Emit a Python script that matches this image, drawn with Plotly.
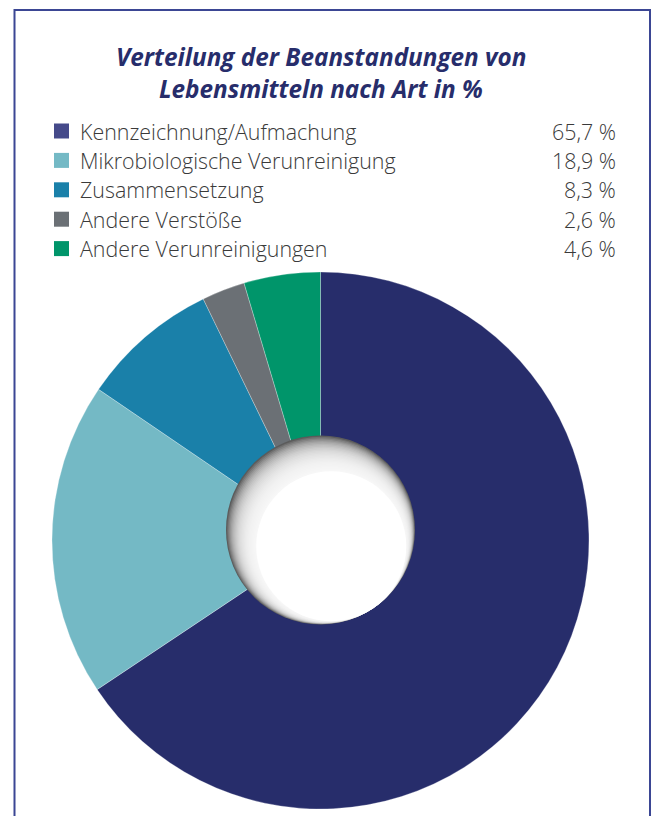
import plotly.graph_objects as go

W, H = 653, 816

categories = ["Kennzeichnung/Aufmachung", "Mikrobiologische Verunreinigung",
              "Zusammensetzung", "Andere Verstöße", "Andere Verunreinigungen"]
values = [65.7, 18.9, 8.3, 2.6, 4.6]
value_labels = ["65,7 %", "18,9 %", "8,3 %", "2,6 %", "4,6 %"]
slice_colors = ["#272d6b", "#74b9c5", "#1a80a9", "#6b7075", "#00956a"]
legend_colors = ["#454a8a", "#74b9c5", "#1a80a9", "#6b7075", "#00956a"]
title_lines = ["Verteilung der Beanstandungen von", "Lebensmitteln nach Art in %"]


def px(x):
    return x / W


def py(y):
    return 1 - y / H


fig = go.Figure()

# pie geometry (screen pixels)
cx, cy, R = 320.5, 540.5, 268.5
fig.add_trace(go.Pie(
    labels=categories, values=values, sort=False, direction="clockwise",
    rotation=0, textinfo="none", hoverinfo="label+percent",
    marker=dict(colors=slice_colors, line=dict(color="rgba(255,255,255,0.45)", width=0.6)),
    domain=dict(x=[px(cx - R), px(cx + R)], y=[py(cy + R), py(cy - R)]),
    showlegend=False,
))

shapes = []
# frame
shapes.append(dict(type="rect", xref="paper", yref="paper",
                   x0=px(14.5), x1=px(650), y0=-0.05, y1=py(10),
                   line=dict(color="#3b4694", width=2), fillcolor="rgba(0,0,0,0)"))

# hole with inner shadow
hx, hy, hr = 320.5, 530, 94.5


def circ(x, y, r, color, opacity=1.0):
    return dict(type="circle", xref="paper", yref="paper",
                x0=px(x - r), x1=px(x + r), y0=py(y + r), y1=py(y - r),
                fillcolor=color, opacity=opacity, line=dict(width=0), layer="above")


shapes.append(circ(hx, hy, hr, "#444444"))
n = 26
step = 0.75
for k in range(n):
    s = k * step
    shapes.append(circ(hx + s * 0.55, hy + s * 0.83, hr - s, "#ffffff", 0.13))
s = n * step
shapes.append(circ(hx + s * 0.55, hy + s * 0.83, hr - s, "#ffffff", 1.0))

annotations = []
# title
for i, line in enumerate(title_lines):
    annotations.append(dict(
        text=f"<b><i>{line}</i></b>", xref="paper", yref="paper",
        x=px(321), y=py(57 + i * 31), xanchor="center", yanchor="middle",
        showarrow=False, font=dict(family="Open Sans", size=24.3, color="#272d6b")))

# legend
row_y0, row_dy = 131, 29.4
for i, (cat, val, col) in enumerate(zip(categories, value_labels, legend_colors)):
    yy = row_y0 + i * row_dy
    shapes.append(dict(type="rect", xref="paper", yref="paper",
                       x0=px(54), x1=px(69), y0=py(yy + 7.5), y1=py(yy - 7.5),
                       fillcolor=col, line=dict(width=0)))
    annotations.append(dict(
        text=cat, xref="paper", yref="paper", x=px(78), y=py(yy),
        xanchor="left", yanchor="middle", showarrow=False,
        font=dict(family="Open Sans", size=21.4, color="#3a3a3a", weight=300)))
    annotations.append(dict(
        text=val, xref="paper", yref="paper", x=px(618), y=py(yy),
        xanchor="right", yanchor="middle", showarrow=False,
        font=dict(family="Open Sans", size=21.4, color="#3a3a3a", weight=300)))

fig.update_layout(
    width=W, height=H, margin=dict(l=0, r=0, t=0, b=0),
    paper_bgcolor="white", plot_bgcolor="white",
    shapes=shapes, annotations=annotations, showlegend=False,
)

fig.write_html("out.html", config={"displayModeBar": False},
               post_script="document.body.style.margin='0';document.body.style.overflow='hidden';")
